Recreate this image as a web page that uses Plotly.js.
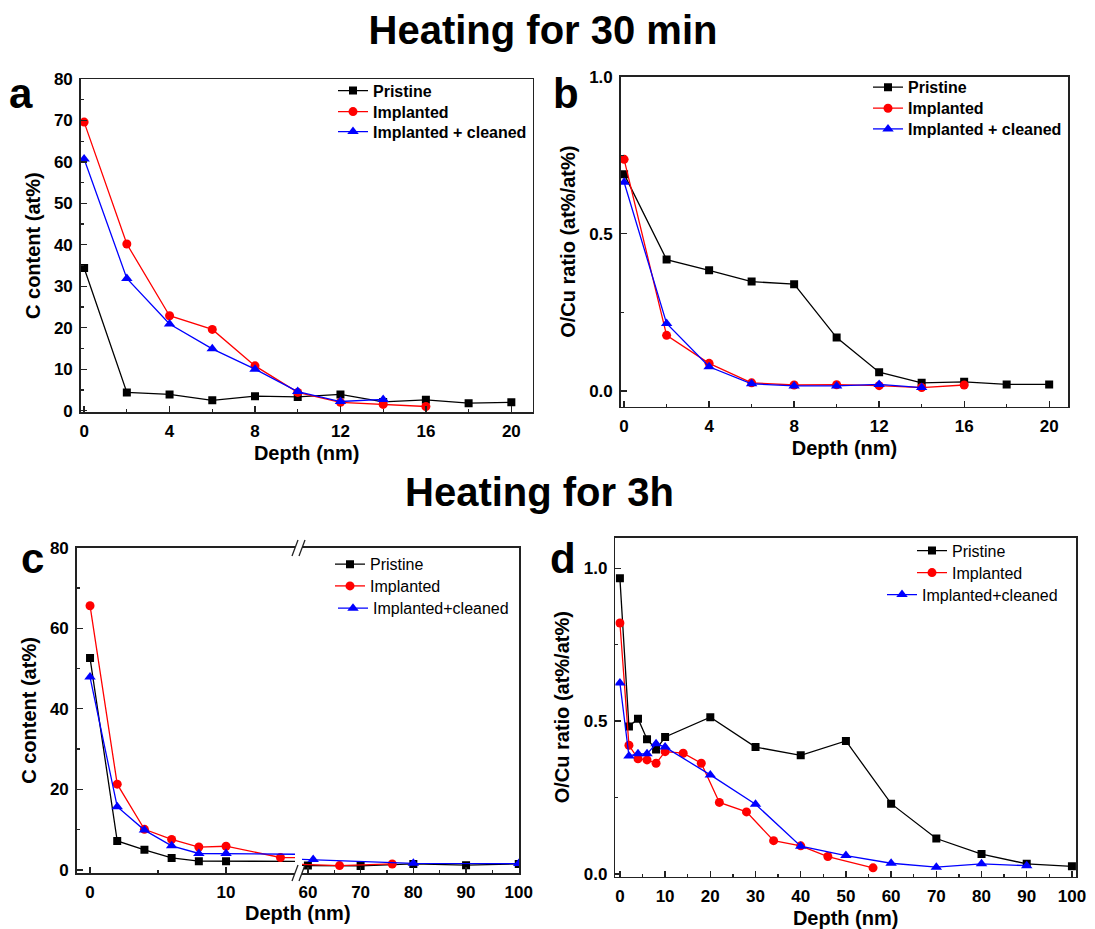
<!DOCTYPE html>
<html>
<head>
<meta charset="utf-8">
<script src="https://cdn.plot.ly/plotly-3.0.1.min.js"></script>
<style>html,body{margin:0;padding:0;background:#fff;}#chart{width:1095px;height:929px;}</style>
</head>
<body>
<div id="chart"></div>
<script>
// ---------- Data ----------
// Panel a: C content, heating 30 min
const depthPriA = [0, 2, 4, 6, 8, 10, 12, 14, 16, 18, 20];
const cPristineA = [34.4, 4.4, 3.9, 2.5, 3.5, 3.3, 3.9, 2.1, 2.6, 1.8, 2.0];
const depthImpA = [0, 2, 4, 6, 8, 10, 12, 14, 16];
const cImplantedA = [69.6, 40.2, 22.9, 19.6, 10.8, 4.4, 2.0, 1.5, 1.0];
const depthClnA = [0, 2, 4, 6, 8, 10, 12, 14];
const cCleanedA = [60.7, 31.9, 20.9, 14.9, 10.0, 4.6, 2.2, 2.7];

// Panel b: O/Cu ratio, heating 30 min
const depthPriB = [0, 2, 4, 6, 8, 10, 12, 14, 16, 18, 20];
const ocuPristineB = [0.690, 0.418, 0.384, 0.348, 0.340, 0.170, 0.060, 0.026, 0.029, 0.021, 0.021];
const depthImpB = [0, 2, 4, 6, 8, 10, 12, 14, 16];
const ocuImplantedB = [0.737, 0.177, 0.088, 0.026, 0.019, 0.020, 0.017, 0.011, 0.019];
const depthClnB = [0, 2, 4, 6, 8, 10, 12, 14];
const ocuCleanedB = [0.664, 0.215, 0.077, 0.023, 0.016, 0.016, 0.021, 0.011];

// Panel c: C content, heating 3 h (broken depth axis)
const depthPriC = [0, 2, 4, 6, 8, 10, 60, 70, 80, 90, 100];
const cPristineC = [52.6, 7.2, 5.0, 3.0, 2.2, 2.2, 1.1, 1.0, 1.5, 1.2, 1.5];
const depthImpC = [0, 2, 4, 6, 8, 10, 14, 66, 76];
const cImplantedC = [65.6, 21.3, 10.1, 7.6, 5.7, 5.9, 3.1, 1.1, 1.5];
const depthClnC = [0, 2, 4, 6, 8, 10, 20, 61, 80, 100];
const cCleanedC = [47.9, 15.7, 9.9, 6.0, 4.1, 4.1, 4.4, 2.6, 1.65, 1.6];

// Panel d: O/Cu ratio, heating 3 h
const depthPriD = [0, 2, 4, 6, 8, 10, 20, 30, 40, 50, 60, 70, 80, 90, 100];
const ocuPristineD = [0.967, 0.482, 0.508, 0.441, 0.407, 0.448, 0.513, 0.415, 0.388, 0.435, 0.230, 0.116, 0.065, 0.033, 0.025];
const depthImpD = [0, 2, 4, 6, 8, 10, 14, 18, 22, 28, 34, 40, 46, 56];
const ocuImplantedD = [0.821, 0.421, 0.377, 0.373, 0.362, 0.400, 0.395, 0.362, 0.234, 0.203, 0.109, 0.092, 0.057, 0.020];
const depthClnD = [0, 2, 4, 6, 8, 10, 20, 30, 40, 50, 60, 70, 80, 90];
const ocuCleanedD = [0.625, 0.386, 0.393, 0.393, 0.426, 0.415, 0.324, 0.228, 0.091, 0.060, 0.035, 0.022, 0.033, 0.027];

const namesTop = ['Pristine', 'Implanted', 'Implanted + cleaned'];
const namesBottom = ['Pristine', 'Implanted', 'Implanted+cleaned'];

// ---------- Helpers ----------
const W = 1095, H = 929;
const px = v => v / W;
const py = v => 1 - v / H;
const FONT = 'Liberation Sans, Arial, sans-serif';

const styles = [
  {color: '#000000', symbol: 'square', size: 8},
  {color: '#ff0000', symbol: 'circle', size: 9},
  {color: '#0000ff', symbol: 'triangle-up', size: 10}
];

function tr(x, y, k, name, xa, ya, legend, showlegend) {
  const s = styles[k];
  return {
    type: 'scatter', mode: 'lines+markers', x: x, y: y, name: name,
    xaxis: xa, yaxis: ya, legend: legend, showlegend: showlegend,
    line: {color: s.color, width: 1.3},
    marker: {color: s.color, symbol: s.symbol, size: s.size, line: {width: 0}},
    cliponaxis: true
  };
}

const traces = [
  tr(depthPriA, cPristineA, 0, namesTop[0], 'x', 'y', 'legend', true),
  tr(depthImpA, cImplantedA, 1, namesTop[1], 'x', 'y', 'legend2', true),
  tr(depthClnA, cCleanedA, 2, namesTop[2], 'x', 'y', 'legend3', true),

  tr(depthPriB, ocuPristineB, 0, namesTop[0], 'x2', 'y2', 'legend4', true),
  tr(depthImpB, ocuImplantedB, 1, namesTop[1], 'x2', 'y2', 'legend5', true),
  tr(depthClnB, ocuCleanedB, 2, namesTop[2], 'x2', 'y2', 'legend6', true),

  tr(depthPriC, cPristineC, 0, namesBottom[0], 'x3', 'y3', 'legend7', true),
  tr(depthImpC, cImplantedC, 1, namesBottom[1], 'x3', 'y3', 'legend8', true),
  tr(depthClnC, cCleanedC, 2, namesBottom[2], 'x3', 'y3', 'legend9', true),
  tr(depthPriC, cPristineC, 0, namesBottom[0], 'x4', 'y4', 'legend7', false),
  tr(depthImpC, cImplantedC, 1, namesBottom[1], 'x4', 'y4', 'legend8', false),
  tr(depthClnC, cCleanedC, 2, namesBottom[2], 'x4', 'y4', 'legend9', false),

  tr(depthPriD, ocuPristineD, 0, namesBottom[0], 'x5', 'y5', 'legend10', true),
  tr(depthImpD, ocuImplantedD, 1, namesBottom[1], 'x5', 'y5', 'legend11', true),
  tr(depthClnD, ocuCleanedD, 2, namesBottom[2], 'x5', 'y5', 'legend12', true)
];

const tickFont = {family: FONT, size: 17, color: '#000', weight: 'bold'};
const titleFont = {family: FONT, size: 20, color: '#000', weight: 'bold'};

function axis(o) {
  return Object.assign({
    showgrid: false, zeroline: false, showline: true, linecolor: '#222', linewidth: 1.5,
    mirror: true, ticks: 'inside', ticklen: 6, tickwidth: 1.3, tickcolor: '#222',
    tickfont: tickFont, automargin: false, fixedrange: true, ticklabelstandoff: 3
  }, o);
}

function leg(xpx, ypx, bold) {
  const f = {family: FONT, size: 16, color: '#000'};
  if (bold) f.weight = 'bold';
  return {x: px(xpx), y: py(ypx), xanchor: 'left', yanchor: 'middle', bgcolor: 'rgba(0,0,0,0)',
    borderwidth: 0, font: f};
}

const layout = {
  width: W, height: H,
  margin: {l: 0, r: 0, t: 0, b: 0},
  paper_bgcolor: '#fff', plot_bgcolor: '#fff',
  font: {family: FONT, color: '#000'},
  title: {
    text: 'Heating for 30 min', x: px(543), y: py(30), xanchor: 'center', yanchor: 'middle',
    xref: 'paper', yref: 'container',
    font: {family: FONT, size: 40, color: '#000', weight: 'bold'}
  },
  // Panel a
  xaxis: axis({domain: [px(80.7), px(532.7)], anchor: 'y', range: [-0.16, 21.0], tick0: 0, dtick: 4,
    minor: {dtick: 2, ticks: 'inside', ticklen: 3, tickcolor: '#222'},
    title: {text: 'Depth (nm)', font: titleFont, standoff: 6}}),
  yaxis: axis({domain: [py(412.3), py(79)], anchor: 'x', range: [-0.4, 80], tick0: 0, dtick: 10,
    minor: {dtick: 5, ticks: 'inside', ticklen: 3, tickcolor: '#222'},
    title: {text: 'C content (at%)', font: titleFont, standoff: 8}}),
  // Panel b
  xaxis2: axis({domain: [px(620.7), px(1068.3)], anchor: 'y2', range: [-0.16, 20.9], tick0: 0, dtick: 4,
    minor: {dtick: 2, ticks: 'inside', ticklen: 3, tickcolor: '#222'},
    title: {text: 'Depth (nm)', font: titleFont, standoff: 6}}),
  yaxis2: axis({domain: [py(406.7), py(76.7)], anchor: 'x2', range: [-0.05, 1.0], tick0: 0, dtick: 0.5,
    tickformat: '.1f',
    minor: {dtick: 0.25, ticks: 'inside', ticklen: 3, tickcolor: '#222'},
    title: {text: 'O/Cu ratio (at%/at%)', font: titleFont, standoff: 8}}),
  // Panel c (broken axis)
  xaxis3: axis({domain: [px(76.7), px(295)], anchor: 'y3', range: [-0.98, 15.07], tick0: 0, dtick: 10,
    minor: {dtick: 5, ticks: 'inside', ticklen: 3, tickcolor: '#222'}}),
  yaxis3: axis({domain: [py(873.3), py(547.7)], anchor: 'x3', range: [-0.82, 80], tick0: 0, dtick: 20,
    mirror: false,
    minor: {dtick: 10, ticks: 'inside', ticklen: 3, tickcolor: '#222'},
    title: {text: 'C content (at%)', font: titleFont, standoff: 8}}),
  xaxis4: axis({domain: [px(302), px(519.3)], anchor: 'y4', range: [58.88, 100.1], tick0: 0, dtick: 10,
    minor: {dtick: 5, ticks: 'inside', ticklen: 3, tickcolor: '#222'}}),
  yaxis4: axis({domain: [py(873.3), py(547.7)], anchor: 'x4', side: 'right', range: [-0.82, 80],
    mirror: false, ticks: '', showticklabels: false}),
  // Panel d
  xaxis5: axis({domain: [px(615.3), px(1076)], anchor: 'y5', range: [-1.02, 100.9], tick0: 0, dtick: 10,
    minor: {dtick: 5, ticks: 'inside', ticklen: 3, tickcolor: '#222'},
    title: {text: 'Depth (nm)', font: titleFont, standoff: 6}}),
  yaxis5: axis({domain: [py(876.7), py(537.7)], anchor: 'x5', range: [-0.009, 1.1], tick0: 0, dtick: 0.5,
    tickformat: '.1f',
    minor: {dtick: 0.25, ticks: 'inside', ticklen: 3, tickcolor: '#222'},
    title: {text: 'O/Cu ratio (at%/at%)', font: titleFont, standoff: 8}}),

  legend: leg(333, 90.7, true),
  legend2: leg(333, 111.7, true),
  legend3: leg(333, 131.7, true),
  legend4: leg(868, 87.3, true),
  legend5: leg(868, 108.3, true),
  legend6: leg(868, 129, true),
  legend7: leg(330, 564.3, false),
  legend8: leg(330, 586, false),
  legend9: leg(333, 608.3, false),
  legend10: leg(912, 550.7, false),
  legend11: leg(912, 572.7, false),
  legend12: leg(882, 594.7, false),

  annotations: [
    {text: 'Heating for 3h', xref: 'paper', yref: 'paper', x: px(539), y: py(492), xanchor: 'center', yanchor: 'middle',
      showarrow: false, font: {family: FONT, size: 40, color: '#000', weight: 'bold'}},
    {text: 'a', xref: 'paper', yref: 'paper', x: px(21), y: py(93), xanchor: 'center', yanchor: 'middle',
      showarrow: false, font: {family: FONT, size: 42, color: '#000', weight: 'bold'}},
    {text: 'b', xref: 'paper', yref: 'paper', x: px(566), y: py(93), xanchor: 'center', yanchor: 'middle',
      showarrow: false, font: {family: FONT, size: 42, color: '#000', weight: 'bold'}},
    {text: 'c', xref: 'paper', yref: 'paper', x: px(32), y: py(558), xanchor: 'center', yanchor: 'middle',
      showarrow: false, font: {family: FONT, size: 42, color: '#000', weight: 'bold'}},
    {text: 'd', xref: 'paper', yref: 'paper', x: px(563), y: py(558), xanchor: 'center', yanchor: 'middle',
      showarrow: false, font: {family: FONT, size: 42, color: '#000', weight: 'bold'}},
    {text: 'Depth (nm)', xref: 'paper', yref: 'paper', x: px(298), y: py(913), xanchor: 'center', yanchor: 'middle',
      showarrow: false, font: titleFont}
  ],
  shapes: [
    // axis-break marks "//" on top and bottom borders of panel c
    {type: 'line', xref: 'paper', yref: 'paper', x0: px(292), y0: py(556), x1: px(298), y1: py(540), line: {color: '#222', width: 1.3}},
    {type: 'line', xref: 'paper', yref: 'paper', x0: px(299), y0: py(556), x1: px(305), y1: py(540), line: {color: '#222', width: 1.3}},
    {type: 'line', xref: 'paper', yref: 'paper', x0: px(292), y0: py(881), x1: px(298), y1: py(865), line: {color: '#222', width: 1.3}},
    {type: 'line', xref: 'paper', yref: 'paper', x0: px(299), y0: py(881), x1: px(305), y1: py(865), line: {color: '#222', width: 1.3}}
  ]
};

Plotly.newPlot('chart', traces, layout, {displayModeBar: false, staticPlot: true});
</script>
</body>
</html>
